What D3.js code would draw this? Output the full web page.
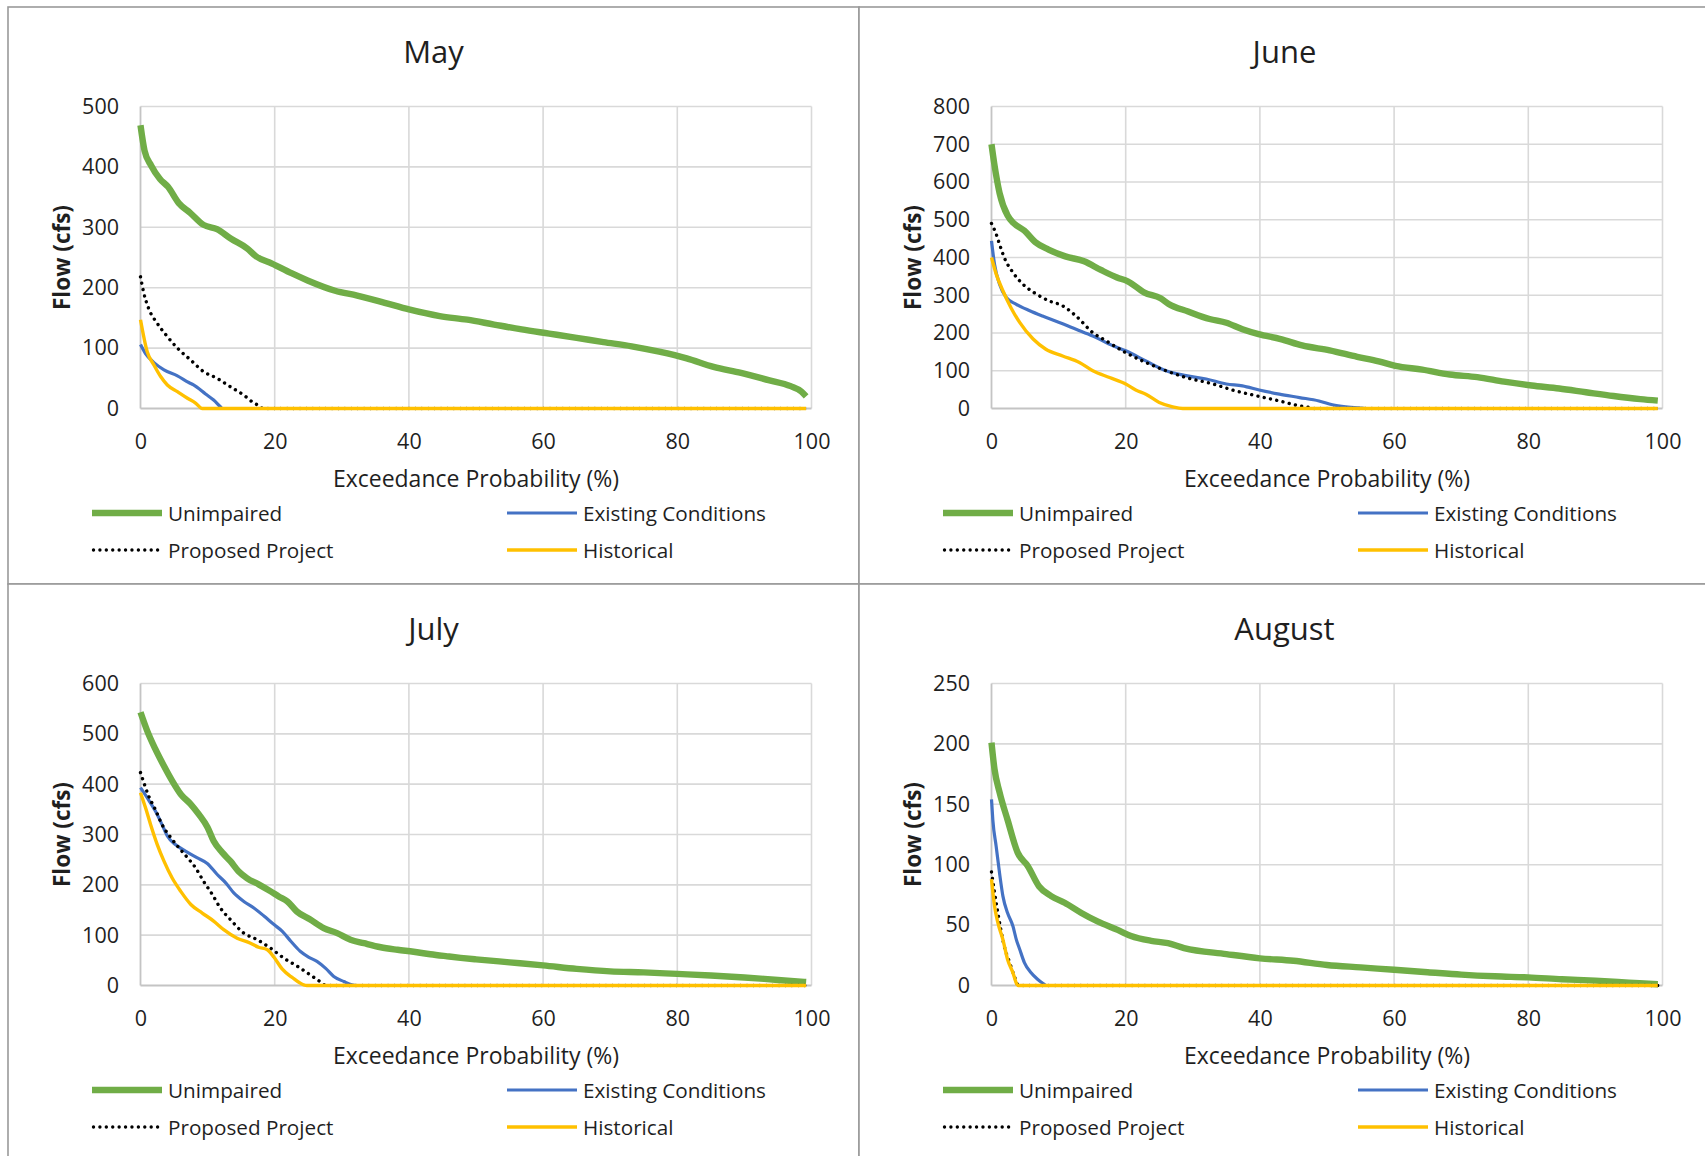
<!DOCTYPE html>
<html><head><meta charset="utf-8">
<script src="https://cdn.jsdelivr.net/npm/d3@7"></script>
<style>body{margin:0;background:#fff}svg{display:block}</style>
</head><body>
<svg id="c" width="1705" height="1156"></svg>
<script>
// ---------- data ----------
const seriesNames = ["Unimpaired", "Existing Conditions", "Proposed Project", "Historical"];
const xTicks = [0, 20, 40, 60, 80, 100];
const months = ["May", "June", "July", "August"];
const yMax = [500, 800, 600, 250];
const yStep = [100, 100, 100, 50];
const xTitle = "Exceedance Probability (%)";
const yTitle = "Flow (cfs)";

// [exceedance %, flow cfs]
const mayUnimpaired = [[0,469],[0.6,427],[1.6,402],[2.9,380],[4.1,367],[5.7,340],[7.4,324],[9.4,304],[11.4,297],[13.5,281],[15.9,265],[17.2,252],[19.6,240],[22.5,224],[24.9,212],[29,195],[32.3,187],[36.4,175],[40,164],[44.6,153],[48.7,147],[52.7,139],[56.8,131],[60.9,124],[65,117],[69,110],[73.2,103],[77.3,94],[81.4,83],[85.4,69],[89.5,59],[93.6,47],[96.9,37],[98.5,28],[99.2,20]];
const mayExisting = [[0,106],[0.75,91],[2,76],[3.5,64],[5.5,54],[7.2,43],[7.9,39],[9.7,24],[10.9,14],[11.9,3],[12.2,0],[99.2,0]];
const mayProposed = [[0,218],[0.5,191],[1.2,166],[2.5,141],[4,119],[5.5,100],[7.5,80],[9.4,61],[11.4,50],[13.4,36],[15.4,22],[16.9,9],[17.9,3],[18.2,0],[99.2,0]];
const mayHistorical = [[0,147],[1,94],[2,72],[3,53],[4,39],[5.5,28],[7,17],[8.2,9],[9.2,0],[99.2,0]];

const junUnimpaired = [[0,700],[0.4,650],[1.2,571],[2.4,511],[3.3,491],[4.9,471],[6.5,441],[8.5,421],[11,403],[13.8,390],[16.3,367],[18.7,347],[20.3,337],[22.8,307],[25.2,292],[26.4,277],[29.3,257],[32.5,237],[35,227],[37.4,210],[39.8,197],[43.1,184],[46.3,167],[50.4,154],[54.5,137],[57.7,125],[60.2,113],[64.2,103],[68.3,90],[72.4,83],[76.4,71],[80.5,61],[84.6,53],[88.6,43],[92.7,33],[96.7,25],[99.3,21]];
const junExisting = [[0,444],[0.45,382],[1.2,329],[2.2,294],[3.7,276],[5.7,259],[7.6,245],[10.1,228],[12.6,210],[15.1,192],[18.1,166],[20,153],[23,126],[26,100],[29,87],[32,78],[35,65],[37.4,60],[39.9,49],[42.9,38],[45.9,29],[48.8,20],[50.8,10],[52.8,4.5],[55.2,1],[56,0],[99.3,0]];
const junProposed = [[0,490],[0.7,462],[1.2,435],[1.9,400],[3.2,360],[4.7,329],[6.7,303],[8.6,285],[10.6,272],[12.6,245],[15.1,201],[17.1,179],[20,148],[23,122],[26,100],[29,82],[33,65],[35.9,49],[39.4,34],[42.9,20],[45.9,7],[47.3,2.6],[47.7,0],[99.3,0]];
const junHistorical = [[0,400],[0.7,356],[1.7,312],[2.9,267],[4.2,228],[6.2,184],[8.1,157],[10.6,139],[13.1,122],[15.1,100],[17.6,82],[20,65],[21.5,49],[23,38],[25,16],[27,4.5],[28.5,0],[99.3,0]];

const julUnimpaired = [[0,543],[1,506],[2.2,470],[3.5,436],[4.7,407],[6,380],[7.5,360],[8.7,340],[10,314],[10.9,287],[12.2,264],[13.4,247],[14.6,227],[15.9,213],[17.6,201],[19.4,187],[20.6,177],[21.9,167],[23.3,147],[25.3,131],[27.3,114],[29.3,104],[31.3,91],[33.3,84],[35.8,76],[38.3,71],[40.7,67],[43.2,62],[45.7,58],[47.7,55],[50,52],[55,46],[60,40],[65,33],[70,28],[75,26],[80,23],[85,20],[90,16],[95,11],[99.2,7]];
const julExisting = [[0,393],[1,373],[2.2,347],[3.2,320],[4,297],[5.2,280],[6.7,267],[8.4,254],[10,242],[11.4,221],[12.7,204],[13.9,184],[15.4,167],[16.9,154],[18.4,138],[19.9,121],[21.1,108],[22.4,88],[23.8,68],[25.1,56],[26.3,48],[27.6,34],[28.8,18],[30.3,8],[31.5,1.4],[32.2,0],[99.2,0]];
const julProposed = [[0,423],[0.5,403],[1.2,377],[2.2,350],[3.2,320],[4.5,294],[5.7,274],[7,254],[8.2,234],[9.4,207],[10.7,181],[11.9,154],[13.4,131],[15.4,104],[17.4,91],[19.4,74],[21.4,54],[23.4,38],[25.3,21],[27.1,4.6],[27.6,0],[99.2,0]];
const julHistorical = [[0,383],[0.75,353],[1.5,320],[2.5,280],[3.5,247],[4.7,214],[6,187],[7.5,161],[9.2,144],[10.9,128],[12.4,111],[14.4,94],[16.4,84],[17.6,76],[18.9,71],[19.9,56],[21.1,33],[22.6,16],[24.3,1.4],[24.8,0],[99.2,0]];

const augUnimpaired = [[0,201],[0.45,179],[1.2,160],[2.4,137],[3.9,110],[5.4,99],[7.1,82],[8.9,74],[10.9,68.5],[13.4,60],[15.8,53],[18.8,46],[20.8,41],[23.8,37],[26.3,35],[28.7,31],[35,26],[40,22.5],[45,20.5],[50,17],[55,15],[60,13],[65,11],[70,9],[75,7.6],[80,6.7],[85,5.2],[90,4],[95,2.4],[99.3,1]];
const augExisting = [[0,154],[0.2,137],[0.7,115],[1.2,93],[1.7,74],[2.4,60],[3.2,49],[3.7,38],[4.2,30],[4.9,19],[5.9,10.5],[6.9,5],[7.9,0.8],[8.1,0],[99.3,0]];
const augProposed = [[0,94],[0.45,77],[0.95,60],[1.4,46],[1.9,32.5],[2.7,19],[3.4,7.7],[3.9,0.8],[4.1,0],[99.3,0]];
const augHistorical = [[0,88],[0.45,66],[0.95,52],[1.7,38],[2.4,21.5],[3.2,10.5],[3.8,0.8],[4,0],[99.3,0]];

const monthSeries = [
  [mayUnimpaired, mayExisting, mayProposed, mayHistorical],
  [junUnimpaired, junExisting, junProposed, junHistorical],
  [julUnimpaired, julExisting, julProposed, julHistorical],
  [augUnimpaired, augExisting, augProposed, augHistorical]
];

// ---------- styles / layout ----------
const FONT = "'Open Sans', 'Noto Sans', sans-serif";
const TXT = "#1f1f1f";
const styles = [
  {color: "#70AD47", width: 6.4, dash: null},
  {color: "#4472C4", width: 3.2, dash: null},
  {color: "#000000", width: 3.4, dash: "0.01 6.4"},
  {color: "#FFC000", width: 3.4, dash: null}
];
const panelOrigins = [[8, 7], [859, 7], [8, 584], [859, 584]];
const PW = 851, PH = 577;
const plotL = 132.5, plotT = 99.5, plotW = 671, plotH = 302;

const svg = d3.select("#c");

months.forEach((m, i) => {
  const [ox, oy] = panelOrigins[i];
  const g = svg.append("g").attr("transform", `translate(${ox},${oy})`);

  // panel border
  g.append("rect").attr("x", 0).attr("y", 0).attr("width", PW).attr("height", PH)
    .attr("fill", "#fff").attr("stroke", "#9a9a9a").attr("stroke-width", 1.6);

  const x = d3.scaleLinear().domain([0, 100]).range([plotL, plotL + plotW]);
  const y = d3.scaleLinear().domain([0, yMax[i]]).range([plotT + plotH, plotT]);
  const yTicks = d3.range(0, yMax[i] + 0.001, yStep[i]);

  // gridlines
  g.append("g").selectAll("line").data(yTicks.slice(1)).join("line")
    .attr("x1", x(0)).attr("x2", x(100)).attr("y1", d => y(d)).attr("y2", d => y(d))
    .attr("stroke", "#d9d9d9").attr("stroke-width", 1.6);
  g.append("g").selectAll("line").data(xTicks.slice(1)).join("line")
    .attr("x1", d => x(d)).attr("x2", d => x(d)).attr("y1", y(0)).attr("y2", y(yMax[i]))
    .attr("stroke", "#d9d9d9").attr("stroke-width", 1.6);
  // axis lines
  g.append("line").attr("x1", x(0)).attr("x2", x(0)).attr("y1", y(0)).attr("y2", y(yMax[i]))
    .attr("stroke", "#c4c4c4").attr("stroke-width", 1.8);
  g.append("line").attr("x1", x(0)).attr("x2", x(100)).attr("y1", y(0)).attr("y2", y(0))
    .attr("stroke", "#c4c4c4").attr("stroke-width", 1.8);

  // axes labels
  const ya = g.append("g").attr("transform", `translate(${x(0)},0)`)
    .call(d3.axisLeft(y).tickValues(yTicks).tickSize(0).tickPadding(21.5).tickFormat(d3.format("d")));
  ya.select(".domain").remove();
  ya.selectAll("text").attr("font-family", FONT).attr("font-size", 21.5).attr("fill", TXT);

  const xa = g.append("g").attr("transform", `translate(0,${y(0)})`)
    .call(d3.axisBottom(x).tickValues(xTicks).tickSize(0).tickPadding(25).tickFormat(d3.format("d")));
  xa.select(".domain").remove();
  xa.selectAll("text").attr("font-family", FONT).attr("font-size", 21.5).attr("fill", TXT);

  // series
  const line = d3.line().x(d => x(d[0])).y(d => y(d[1])).curve(d3.curveMonotoneX);
  monthSeries[i].forEach((data, si) => {
    const st = styles[si];
    const p = g.append("path").datum(data).attr("d", line)
      .attr("fill", "none").attr("stroke", st.color).attr("stroke-width", st.width)
      .attr("stroke-linejoin", "round").attr("stroke-linecap", st.dash ? "round" : "butt");
    if (st.dash) p.attr("stroke-dasharray", st.dash);
  });

  // titles
  g.append("text").attr("x", PW / 2).attr("y", 56).attr("text-anchor", "middle")
    .attr("font-family", FONT).attr("font-size", 31).attr("fill", TXT).text(m);
  g.append("text").attr("x", plotL + plotW / 2).attr("y", plotT + plotH + 78).attr("text-anchor", "middle")
    .attr("font-family", FONT).attr("font-size", 23).attr("fill", TXT).text(xTitle);
  g.append("text").attr("transform", `translate(61.5,${plotT + plotH / 2}) rotate(-90)`)
    .attr("text-anchor", "middle").attr("font-family", FONT).attr("font-weight", 700)
    .attr("font-size", 22.5).attr("fill", TXT).text(yTitle);

  // legend
  const legPos = [[84, 506], [499, 506], [84, 543], [499, 543]];
  seriesNames.forEach((name, si) => {
    const st = styles[si];
    const [lx, ly] = legPos[si];
    const l = g.append("line").attr("x1", lx + (st.dash ? 1.5 : 0)).attr("x2", lx + 70).attr("y1", ly).attr("y2", ly)
      .attr("stroke", st.color).attr("stroke-width", st.width)
      .attr("stroke-linecap", st.dash ? "round" : "butt");
    if (st.dash) l.attr("stroke-dasharray", st.dash);
    g.append("text").attr("x", lx + 76).attr("y", ly + 7.5)
      .attr("font-family", FONT).attr("font-size", 20.7).attr("fill", TXT).text(name);
  });
});
</script>
</body></html>
